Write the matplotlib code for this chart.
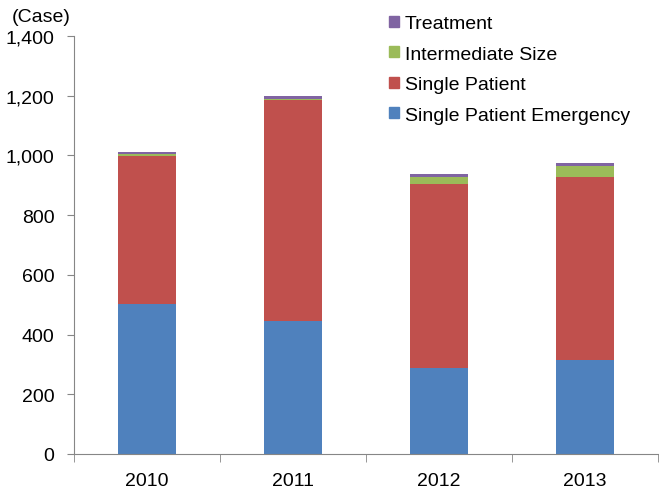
import numpy as np
import matplotlib
matplotlib.use("Agg")
from matplotlib import pyplot as plt
from matplotlib.patches import Patch

years = ["2010", "2011", "2012", "2013"]
emergency = [502, 446, 288, 315]
single = [497, 741, 617, 613]
intermediate = [7, 3, 22, 36]
treatment = [7, 10, 10, 11]

series = [
    ("Single Patient Emergency", emergency, "#4F81BD"),
    ("Single Patient", single, "#C0504D"),
    ("Intermediate Size", intermediate, "#9BBB59"),
    ("Treatment", treatment, "#8064A2"),
]

plt.rc("font", family=["Liberation Sans", "DejaVu Sans"], size=14)

W, H = 659, 489
fig = plt.figure(figsize=(W / 100, H / 100), dpi=100)
ax = fig.add_axes([74 / W, (H - 455) / H, 584 / W, (455 - 37) / H])

x = np.arange(len(years))
bottom = np.zeros(len(years))
for name, vals, col in series:
    ax.bar(x, vals, width=0.4, bottom=bottom, color=col, label=name, zorder=2)
    bottom += np.array(vals)

grey = "#868686"
ax.set_xlim(-0.5, 3.5)
ax.set_ylim(0, 1400)
ax.set_yticks(range(0, 1401, 200))
ax.set_yticklabels([f"{v:,}" for v in range(0, 1401, 200)])
ax.set_xticks(x)
ax.set_xticklabels(years)
ax.set_xticks(np.arange(-0.5, 4, 1), minor=True)
ax.tick_params(axis="x", which="major", length=0, pad=13)
ax.tick_params(axis="x", which="minor", length=6, color=grey)
ax.tick_params(axis="y", length=5, color=grey, pad=9)
for s in ["top", "right"]:
    ax.spines[s].set_visible(False)
for s in ["left", "bottom"]:
    ax.spines[s].set_color(grey)

fig.text(12 / W, 1 - 17.5 / H, "(Case)", ha="left", va="center")

handles = [Patch(color=c, label=n) for n, v, c in series][::-1]
ax.legend(handles=handles, loc="upper left", bbox_to_anchor=(389 / W, 1 - 16 / H),
          bbox_transform=fig.transFigure, frameon=False, borderpad=0, borderaxespad=0,
          handlelength=0.5, handleheight=0.5, handletextpad=0.3, labelspacing=0.7)

fig.savefig("out.png", dpi=100)
